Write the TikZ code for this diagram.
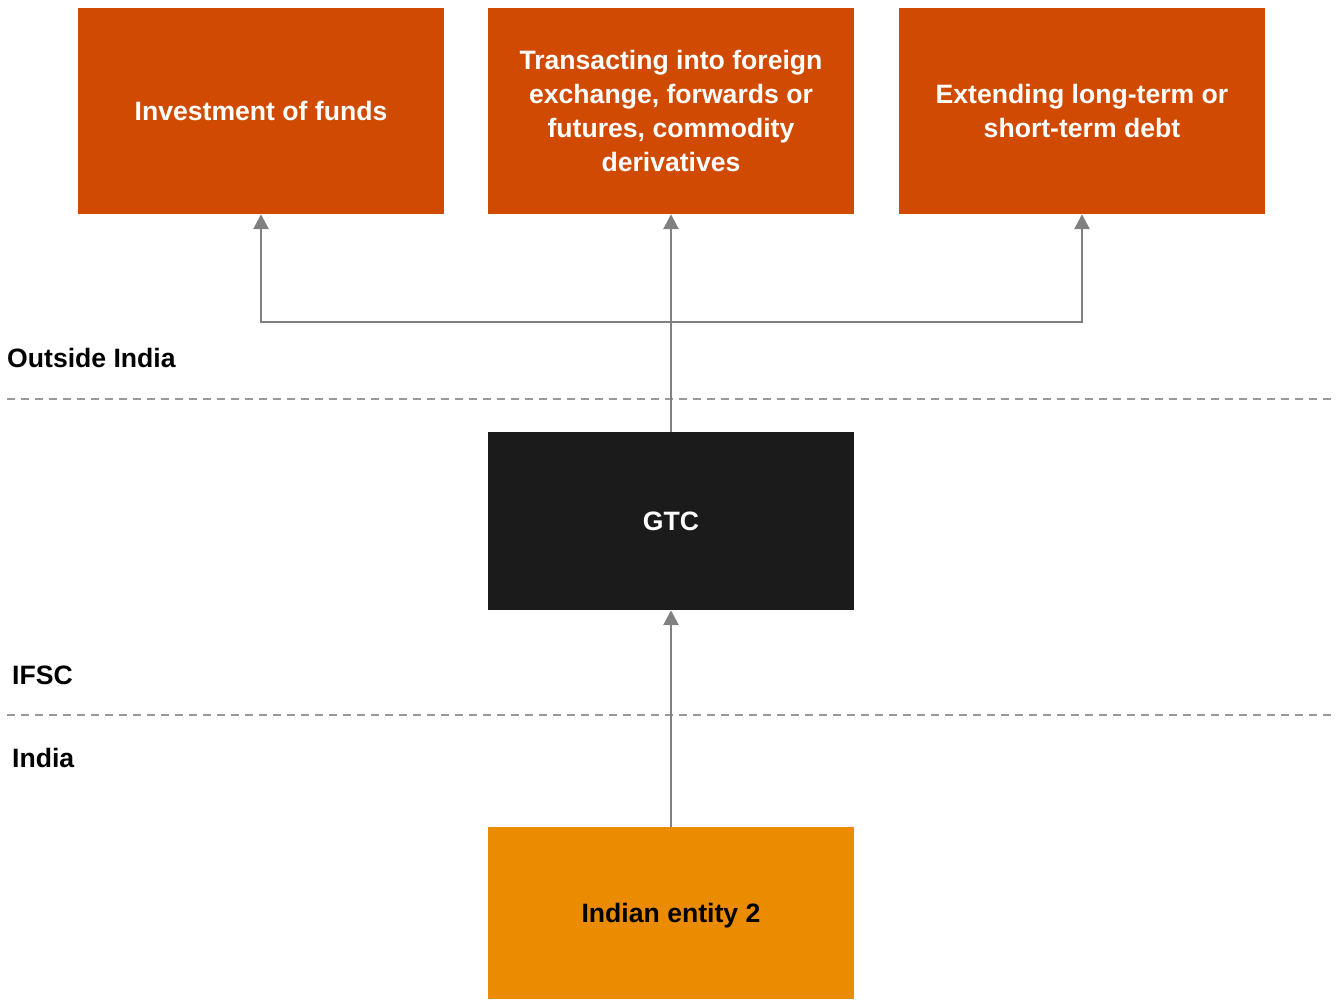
\documentclass[tikz,border=0pt]{standalone}
\usepackage{fontspec}
\setmainfont{Liberation Sans}
\usetikzlibrary{arrows.meta}
\definecolor{pwcorange}{HTML}{D04A02}
\definecolor{pwcdark}{HTML}{1B1B1B}
\definecolor{pwcamber}{HTML}{EB8C00}
\definecolor{linegray}{HTML}{808080}
\begin{document}
\begin{tikzpicture}[x=1pt,y=-1pt,
  box/.style={rectangle, inner sep=0pt, align=center, font=\fontsize{26.6}{34}\selectfont\bfseries},
  topbox/.style={box, fill=pwcorange, text=white, minimum width=366pt, minimum height=206pt},
  arr/.style={draw=linegray, line width=2.8pt, -{Triangle[length=15pt,width=15pt]}},
  zone/.style={draw=linegray!80, line width=1.8pt, dash pattern=on 8pt off 6pt},
  lbl/.style={anchor=west, inner sep=0pt, font=\fontsize{26.6}{30}\selectfont\bfseries}]
\useasboundingbox (0,0) rectangle (1338,999);
\fill[white] (0,0) rectangle (1338,999);
\node[topbox] (inv) at (261,111) {Investment of funds};
\node[topbox] (fx) at (671,111) {Transacting into foreign\\exchange, forwards or\\futures, commodity\\derivatives};
\node[topbox] (debt) at (1082,111) {Extending long-term or\\short-term debt};
\node[box, fill=pwcdark, text=white, minimum width=366pt, minimum height=178pt] (gtc) at (671,521) {GTC};
\node[box, fill=pwcamber, text=black, minimum width=366pt, minimum height=172pt, text depth=0pt] (ind) at (671,913) {Indian entity 2};
\coordinate (j) at (671,322);
\coordinate (l1a) at (7,399); \coordinate (l1b) at (1332,399);
\coordinate (l2a) at (7,715); \coordinate (l2b) at (1332,715);
\draw[zone] (l1a) -- (l1b);
\draw[zone] (l2a) -- (l2b);
\draw[arr] (gtc.north) -- (fx.south);
\draw[arr] (j) -| (inv.south);
\draw[arr] (j) -| (debt.south);
\draw[arr] (ind.north) -- (gtc.south);
\node[lbl] (outside) at (7,358) {Outside India};
\node[lbl] (ifsc) at (12,675) {IFSC};
\node[lbl] (india) at (12,758) {India};
\end{tikzpicture}
\end{document}
